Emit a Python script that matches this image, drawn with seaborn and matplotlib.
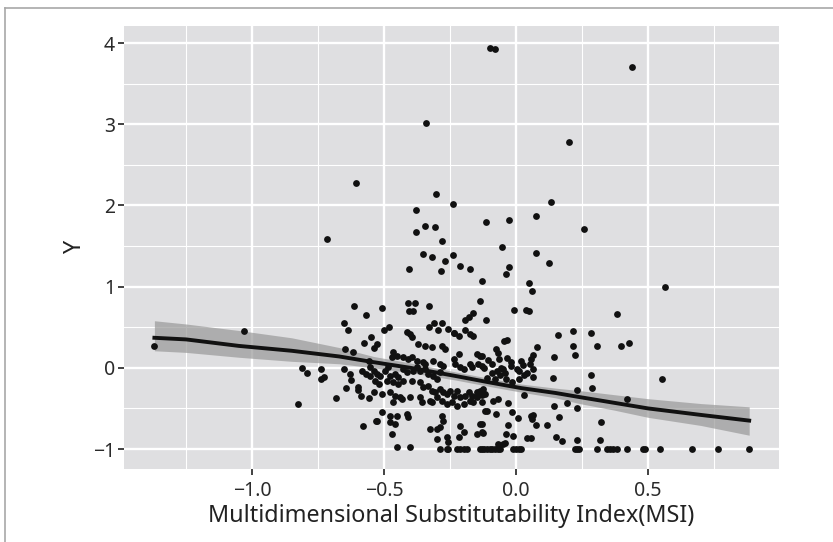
import numpy as np
import pandas as pd
import seaborn as sns
import matplotlib.pyplot as plt
from matplotlib.lines import Line2D
from matplotlib.ticker import MultipleLocator


# points, grouped roughly by area
upper_x = [-0.098, -0.080, 0.439, -0.341, 0.201, -0.605, -0.304, -0.239, 0.131, -0.38,
           0.074, -0.115, -0.028, -0.345, -0.306, 0.259, -0.38, -0.715, -0.279, -0.053,
           0.074, -0.353, -0.318, -0.239, -0.269, 0.123, -0.212, -0.173, -0.405, -0.283,
           -0.028, -0.037, -0.13, 0.05, 0.06, 0.563, -0.614, -0.508, -0.408, -0.384,
           -0.404, -0.389, -0.331, -0.138, -0.006, 0.039, 0.049, 0.381, -0.569, -0.162,
           -0.179, -0.192, -0.115]
upper_y = [3.94, 3.93, 3.70, 3.01, 2.78, 2.28, 2.14, 2.02, 2.04, 1.95,
           1.87, 1.79, 1.82, 1.75, 1.74, 1.71, 1.67, 1.59, 1.56, 1.49,
           1.42, 1.40, 1.36, 1.39, 1.32, 1.29, 1.26, 1.22, 1.22, 1.19,
           1.24, 1.16, 1.07, 1.05, 0.95, 0.99, 0.76, 0.74, 0.80, 0.80,
           0.70, 0.70, 0.76, 0.82, 0.71, 0.71, 0.70, 0.66, 0.65, 0.68,
           0.62, 0.59, 0.59]

mid_x = [-0.652, -0.638, -0.5, -0.482, -0.414, -0.31, -0.279, -0.331, -0.294, -0.256,
         -0.192, -0.234, -1.03, -1.37, -0.575, -0.55, -0.537, -0.528, -0.648, -0.617,
         0.216, 0.282, 0.158, 0.307, 0.399, 0.427, 0.216, 0.223, 0.144, 0.078,
         -0.045, -0.035]
mid_y = [0.55, 0.46, 0.46, 0.50, 0.44, 0.55, 0.55, 0.50, 0.46, 0.48,
         0.46, 0.43, 0.45, 0.27, 0.30, 0.38, 0.25, 0.29, 0.23, 0.19,
         0.45, 0.43, 0.41, 0.27, 0.27, 0.30, 0.27, 0.16, 0.13, 0.26,
         0.33, 0.34]

dense_x = [-0.401, -0.395, -0.370, -0.345, -0.319, -0.282, -0.269, -0.237, -0.218, -0.174,
           -0.162, -0.465, -0.471, -0.452, -0.427, -0.408, -0.395, -0.376, -0.351, -0.345,
           -0.313, -0.288, -0.275, -0.237, -0.218, -0.231, -0.212, -0.199, -0.174, -0.168,
           -0.149, -0.136, -0.143, -0.130, -0.553, -0.540, -0.528, -0.515, -0.496, -0.484,
           -0.477, -0.458, -0.446, -0.427, -0.414, -0.389, -0.376, -0.364, -0.345, -0.332,
           -0.313, -0.300, -0.288, -0.534, -0.521, -0.490, -0.465, -0.446, -0.427, -0.395,
           -0.364, -0.351, -0.332, -0.319, -0.307, -0.288, -0.275, -0.263, -0.250, -0.237,
           -0.225, -0.212, -0.193, -0.180, -0.168, -0.149, -0.136, -0.124, -0.540, -0.509,
           -0.477, -0.458, -0.439, -0.401, -0.465, -0.433, -0.364, -0.357, -0.326, -0.319,
           -0.300, -0.282, -0.263, -0.244, -0.225, -0.199, -0.174, -0.162, -0.149, -0.130,
           -0.509, -0.477, -0.452, -0.414, -0.408, -0.528, -0.477, -0.458, -0.282, -0.275,
           -0.288, -0.300, -0.326, -0.212, -0.136, -0.117, -0.471, -0.300, -0.263, -0.256,
           -0.218, -0.199, -0.149, -0.130, -0.452, -0.401]
dense_y = [0.415, 0.374, 0.292, 0.271, 0.251, 0.271, 0.230, 0.435, 0.394, 0.415,
           0.394, 0.189, 0.128, 0.148, 0.128, 0.107, 0.128, 0.087, 0.066, 0.046,
           0.087, 0.046, 0.025, 0.107, 0.169, 0.046, 0.005, -0.016, 0.046, 0.005,
           0.169, 0.148, 0.046, 0.025, 0.005, -0.036, -0.077, -0.098, -0.036, 0.005,
           -0.098, -0.077, -0.118, -0.016, -0.057, -0.036, 0.005, -0.036, -0.016, -0.077,
           -0.098, -0.139, -0.057, -0.159, -0.200, -0.159, -0.180, -0.200, -0.159, -0.159,
           -0.180, -0.241, -0.221, -0.282, -0.303, -0.262, -0.303, -0.323, -0.282, -0.344,
           -0.282, -0.365, -0.344, -0.303, -0.344, -0.303, -0.282, -0.262, -0.303, -0.323,
           -0.303, -0.344, -0.365, -0.365, -0.426, -0.385, -0.365, -0.426, -0.406, -0.426,
           -0.365, -0.406, -0.447, -0.426, -0.467, -0.447, -0.406, -0.426, -0.365, -0.426,
           -0.549, -0.590, -0.590, -0.570, -0.611, -0.652, -0.672, -0.693, -0.590, -0.652,
           -0.734, -0.754, -0.754, -0.713, -0.693, -0.529, -0.816, -0.877, -0.857, -0.918,
           -0.857, -0.795, -0.816, -0.795, -0.979, -0.971]

cluster_x = [-0.076, -0.068, -0.13, -0.106, -0.064, -0.034, -0.019, -0.121, -0.091, -0.072,
             -0.057, -0.049, -0.042, 0.064, 0.057, 0.053, 0.064, 0.027, 0.004, 0.011,
             0.042, -0.11, -0.08, -0.038, -0.015, 0.011, 0.064, -0.125, -0.117, -0.129,
             0.03, -0.087, -0.068, -0.03, -0.11, -0.076, -0.015, 0.008, 0.057, 0.064,
             0.061, 0.076, -0.129, -0.125, -0.03, -0.038, -0.011, 0.042, 0.057, -0.068,
             -0.049, -0.042, -0.02, 0.02, -0.09, 0.03, -0.06]
cluster_y = [0.23, 0.18, 0.15, 0.10, 0.11, 0.12, 0.07, 0.0, -0.06, -0.04,
             0.0, -0.02, -0.06, 0.16, 0.11, 0.05, -0.01, 0.04, -0.02, -0.04,
             -0.06, -0.12, -0.14, -0.14, -0.18, -0.14, -0.11, -0.31, -0.32, -0.34,
             -0.34, -0.41, -0.38, -0.43, -0.53, -0.57, -0.54, -0.62, -0.59, -0.58,
             -0.63, -0.71, -0.69, -0.80, -0.71, -0.81, -0.84, -0.87, -0.87, -0.94,
             -0.94, -0.93, 0.02, 0.08, 0.05, -0.09, -0.09]

right_x = [0.282, 0.286, 0.14, 0.553, 0.229, 0.422, 0.193, 0.145, 0.232, 0.163,
           0.321, 0.117, 0.153, 0.175, 0.232, 0.317]
right_y = [-0.09, -0.25, -0.13, -0.14, -0.27, -0.38, -0.43, -0.47, -0.50, -0.60,
           -0.67, -0.70, -0.85, -0.90, -0.89, -0.89]

left_x = [-0.812, -0.793, -0.825, -0.74, -0.727, -0.74, -0.683, -0.652, -0.63, -0.625,
          -0.644, -0.60, -0.60, -0.587, -0.557, -0.578, -0.556, -0.583, -0.569, -0.553,
          -0.53]
left_y = [0.0, -0.06, -0.44, -0.01, -0.11, -0.14, -0.37, -0.01, -0.08, -0.15,
          -0.25, -0.23, -0.27, -0.35, -0.37, -0.72, 0.09, -0.04, -0.08, -0.10,
          -0.65]

# observations sitting on the floor at Y = -1
floor_x = [-0.288, -0.263, -0.256, -0.225, -0.212, -0.199, -0.187, -0.136, -0.13, -0.12,
           -0.11, -0.10, -0.09, -0.08, -0.07, -0.06, -0.01, 0.0, 0.01, 0.02,
           0.223, 0.23, 0.24, 0.307, 0.344, 0.356, 0.369, 0.381, 0.422, 0.48,
           0.49, 0.545, 0.668, 0.765, 0.883]
floor_y = [-1.0] * len(floor_x)

# smoothed trend and its confidence band
fit_x = [-1.37, -1.25, -1.05, -0.85, -0.67, -0.54, -0.40, -0.23, -0.10, 0.02,
         0.15, 0.24, 0.37, 0.50, 0.70, 0.883]
fit_y = [0.37, 0.35, 0.27, 0.21, 0.14, 0.07, 0.00, -0.10, -0.18, -0.25,
         -0.31, -0.36, -0.43, -0.50, -0.58, -0.65]
fit_hi = [0.58, 0.54, 0.46, 0.37, 0.25, 0.14, 0.06, -0.05, -0.13, -0.20,
          -0.25, -0.28, -0.33, -0.38, -0.44, -0.48]
fit_lo = [0.21, 0.19, 0.13, 0.08, 0.05, 0.00, -0.06, -0.15, -0.23, -0.30,
          -0.37, -0.44, -0.52, -0.61, -0.71, -0.83]

msi = upper_x + mid_x + dense_x + cluster_x + right_x + left_x + floor_x
yval = upper_y + mid_y + dense_y + cluster_y + right_y + left_y + floor_y
df = pd.DataFrame({'MSI': msi, 'Y': yval})
fit = pd.DataFrame({'MSI': fit_x, 'Y': fit_y, 'lo': fit_lo, 'hi': fit_hi})

plt.rcParams['font.family'] = ['Noto Sans', 'DejaVu Sans']

fig = plt.figure(figsize=(8.33, 5.42), dpi=100)
ax = fig.add_axes([0.1489, 0.1347, 0.9352 - 0.1489, 0.952 - 0.1347])
ax.set_facecolor('#dfdfe1')

ax.fill_between(fit['MSI'], fit['lo'], fit['hi'], color='#999999',
                alpha=0.7, lw=0, zorder=2.5)
sns.scatterplot(data=df, x='MSI', y='Y', ax=ax, s=24, color='#111111',
                linewidth=0, zorder=3)
sns.lineplot(data=fit, x='MSI', y='Y', ax=ax, color='#111111', lw=2.8,
             zorder=4)

ax.set_xlim(-1.485, 0.996)
ax.set_ylim(-1.246, 4.21)
ax.xaxis.set_minor_locator(MultipleLocator(0.25))
ax.yaxis.set_minor_locator(MultipleLocator(0.5))
ax.set_xticks([-1.0, -0.5, 0.0, 0.5])
ax.set_xticklabels(['\u22121.0', '\u22120.5', '0.0', '0.5'])
ax.set_yticks([-1, 0, 1, 2, 3, 4])
ax.set_yticklabels(['\u22121', '0', '1', '2', '3', '4'])

ax.grid(which='major', color='white', lw=1.7)
ax.grid(which='minor', color='white', lw=0.8)
ax.set_axisbelow(True)
for s in ax.spines.values():
    s.set_visible(False)
ax.tick_params(which='major', length=4, width=1.3, color='#333333',
               labelsize=14, labelcolor='#2a2a2a', pad=2.5)
ax.tick_params(axis='x', which='major', pad=5)
ax.tick_params(which='minor', length=0)

ax.set_xlabel('Multidimensional Substitutability Index(MSI)', fontsize=16.8,
              color='#222222', labelpad=1.5)
ax.set_ylabel('Y', fontsize=16.8, color='#222222', labelpad=4)

# thin grey frame on the top and left edges of the picture
fig.add_artist(Line2D([0.0066, 1.0], [0.986, 0.986], color='#a8a8a8', lw=1.2))
fig.add_artist(Line2D([0.0066, 0.0066], [0.0, 0.986], color='#a8a8a8', lw=1.2))

fig.savefig('out.png', dpi=100)
